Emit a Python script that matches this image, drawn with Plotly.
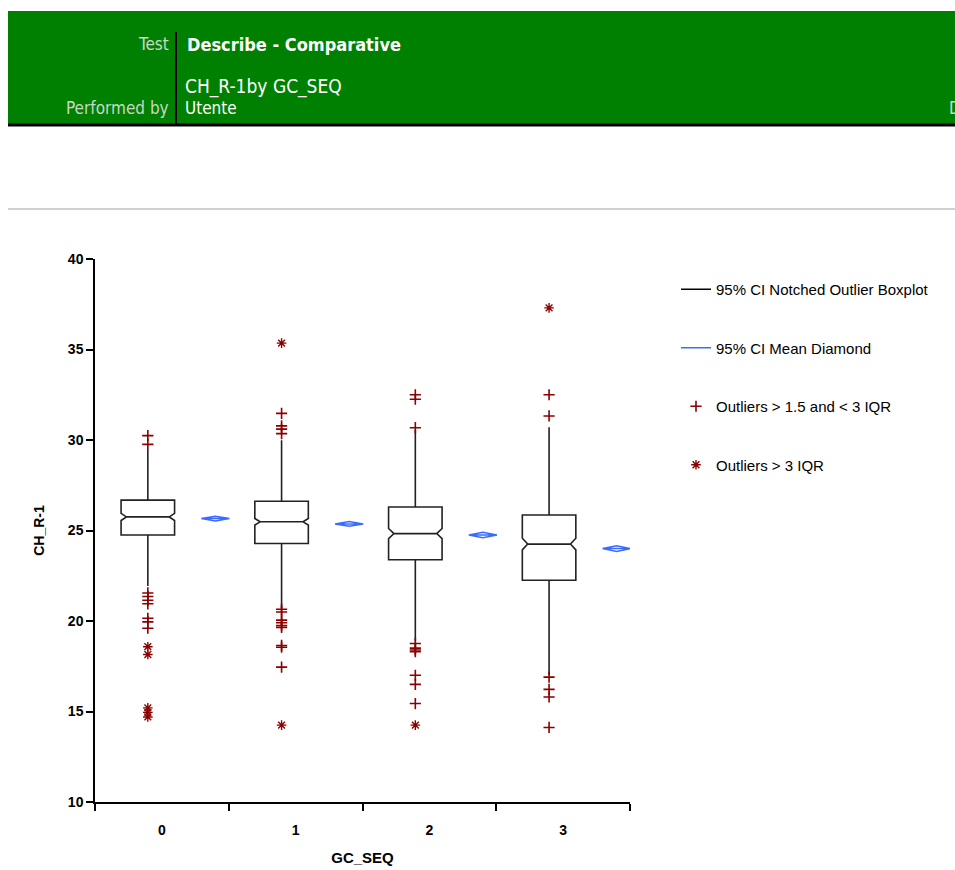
import plotly.graph_objects as go

# ---------------- data ----------------
groups = ["0", "1", "2", "3"]
q1 = [24.75, 24.28, 23.38, 22.25]
median = [25.75, 25.48, 24.83, 24.25]
q3 = [26.68, 26.62, 26.30, 25.86]
lower_fence = [21.93, 20.72, 18.90, 17.02]
upper_fence = [29.45, 29.98, 30.55, 30.70]
notch_span = [0.20, 0.18, 0.28, 0.32]

mean_vals = [25.66, 25.36, 24.75, 24.00]
mean_ci = [0.13, 0.13, 0.15, 0.16]

mild_outliers = [
    [30.24, 29.76, 21.55, 21.35, 21.15, 20.95, 20.15, 19.95, 19.60],
    [31.47, 30.78, 30.60, 30.35, 20.65, 20.50, 20.05, 19.90, 19.75, 19.65, 18.65, 18.55, 17.45],
    [32.50, 32.25, 30.68, 18.76, 18.50, 18.40, 18.30, 17.00, 16.50, 15.44],
    [32.50, 31.33, 16.90, 16.22, 15.80, 14.12],
]
extreme_outliers = [
    [18.58, 18.15, 15.20, 14.95, 14.70],
    [35.35, 14.25],
    [14.25],
    [37.30],
]

y_ticks = [10, 15, 20, 25, 30, 35, 40]

# ---------------- layout constants ----------------
W, H = 955, 870
PL, PR, PT, PB = 95, 630, 259, 802
BOX_SHIFT = -0.105
DIAM_SHIFT = 0.40
DIAM_HALF = 0.105
RED = "#8B0000"
BLUE = "#3A6BFF"
AF = "Arial, Liberation Sans, sans-serif"


def px(x):
    return (x - PL) / (PR - PL)


def py(y):
    return (PB - y) / (PB - PT)


fig = go.Figure()

xpos = list(range(len(groups)))

# notched boxes
fig.add_trace(go.Box(
    x=[i + BOX_SHIFT for i in xpos],
    q1=q1, median=median, q3=q3,
    lowerfence=lower_fence, upperfence=upper_fence,
    notchspan=notch_span, notched=True, notchwidth=0.1,
    width=0.40, whiskerwidth=0, boxpoints=False,
    fillcolor="white", line=dict(color="#222222", width=1.6),
    showlegend=False, hoverinfo="skip",
))

# legend entry for the boxplot
fig.add_trace(go.Scatter(
    x=[None], y=[None], mode="lines", line=dict(color="black", width=1.5),
    name="95% CI Notched Outlier Boxplot", legendgroup="a",
))

# mean diamonds
dx, dy = [], []
for i, (m, c) in enumerate(zip(mean_vals, mean_ci)):
    cx = i + DIAM_SHIFT
    dx += [cx - DIAM_HALF, cx, cx + DIAM_HALF, cx, cx - DIAM_HALF, cx + DIAM_HALF, None]
    dy += [m, m + c, m, m - c, m, m, None]
fig.add_trace(go.Scatter(
    x=dx, y=dy, mode="lines", line=dict(color=BLUE, width=1.5),
    name="95% CI Mean Diamond", legendgroup="b", hoverinfo="skip",
))

# outliers
mx, my = [], []
for i, vals in enumerate(mild_outliers):
    mx += [i + BOX_SHIFT] * len(vals)
    my += vals
fig.add_trace(go.Scatter(
    x=mx, y=my, mode="markers",
    marker=dict(symbol="cross-thin-open", size=8, line=dict(color=RED, width=1.6), color=RED),
    name="Outliers > 1.5 and < 3 IQR", legendgroup="c",
))

ex, ey = [], []
for i, vals in enumerate(extreme_outliers):
    ex += [i + BOX_SHIFT] * len(vals)
    ey += vals
fig.add_trace(go.Scatter(
    x=ex, y=ey, mode="markers",
    marker=dict(symbol="asterisk-open", size=8, line=dict(color=RED, width=1.4), color=RED),
    name="Outliers > 3 IQR", legendgroup="d",
))

# ---------------- header (shapes + text) ----------------
shapes = [
    dict(type="rect", xref="paper", yref="paper", x0=px(8), x1=px(960), y0=py(124), y1=py(11),
         fillcolor="#008000", line=dict(width=0), layer="below"),
    dict(type="line", xref="paper", yref="paper", x0=px(8), x1=px(960), y0=py(125), y1=py(125),
         line=dict(color="black", width=3)),
    dict(type="line", xref="paper", yref="paper", x0=px(176), x1=px(176), y0=py(124), y1=py(32),
         line=dict(color="black", width=2)),
    dict(type="line", xref="paper", yref="paper", x0=px(8), x1=px(960), y0=py(209), y1=py(209),
         line=dict(color="#d0d0d0", width=2)),
]

HF = "DejaVu Sans Condensed, Liberation Sans Narrow, Arial Narrow, sans-serif"


def ann(text, x, y, xanchor, color, size=17, bold=False):
    return dict(text=f"<b>{text}</b>" if bold else text, xref="paper", yref="paper",
                x=px(x), y=py(y), xanchor=xanchor, yanchor="middle", showarrow=False,
                font=dict(family=HF, size=size, color=color))


annotations = [
    ann("Test", 171, 44, "right", "#c8d8c8"),
    ann("Describe - Comparative", 185, 44, "left", "white", 18, True),
    ann("CH_R-1by GC_SEQ", 183, 86, "left", "white", 19),
    ann("Performed by", 171, 108, "right", "#c8d8c8"),
    ann("Utente", 183, 108, "left", "white"),
    ann("D", 947, 108, "left", "#c8d8c8"),
]

fig.update_layout(
    width=W, height=H,
    margin=dict(l=PL, r=W - PR, t=PT, b=H - PB),
    paper_bgcolor="white", plot_bgcolor="white",
    font=dict(family=AF, size=14, color="black"),
    shapes=shapes, annotations=annotations,
    showlegend=True,
    legend=dict(x=px(676), y=py(273), xanchor="left", yanchor="top",
                font=dict(size=15, family=AF),
                tracegroupgap=36, bgcolor="rgba(0,0,0,0)", itemwidth=30),
    xaxis=dict(range=[-0.5, 3.5], tickvals=xpos, ticktext=groups, ticks="",
               ticklabelstandoff=14, automargin=False,
               showline=True, linecolor="black", linewidth=1.5, showgrid=False, zeroline=False,
               minor=dict(tickvals=[-0.5, 0.5, 1.5, 2.5, 3.5], ticks="outside", ticklen=7,
                          tickwidth=1.5, tickcolor="black", showgrid=False),
               title=dict(text="<b>GC_SEQ</b>", font=dict(size=15), standoff=16),
               tickfont=dict(size=14, weight="bold"), fixedrange=True),
    yaxis=dict(range=[10, 40], tickvals=y_ticks, ticks="outside", ticklen=7, tickwidth=1.5,
               tickcolor="black", showline=True, linecolor="black", linewidth=1.5,
               showgrid=False, zeroline=False, automargin=False,
               title=dict(text="<b>CH_R-1</b>", font=dict(size=14), standoff=20),
               tickfont=dict(size=14, weight="bold"), fixedrange=True),
)

fig.write_html("out.html", config={"displayModeBar": False},
               post_script="document.body.style.margin='0px';")
